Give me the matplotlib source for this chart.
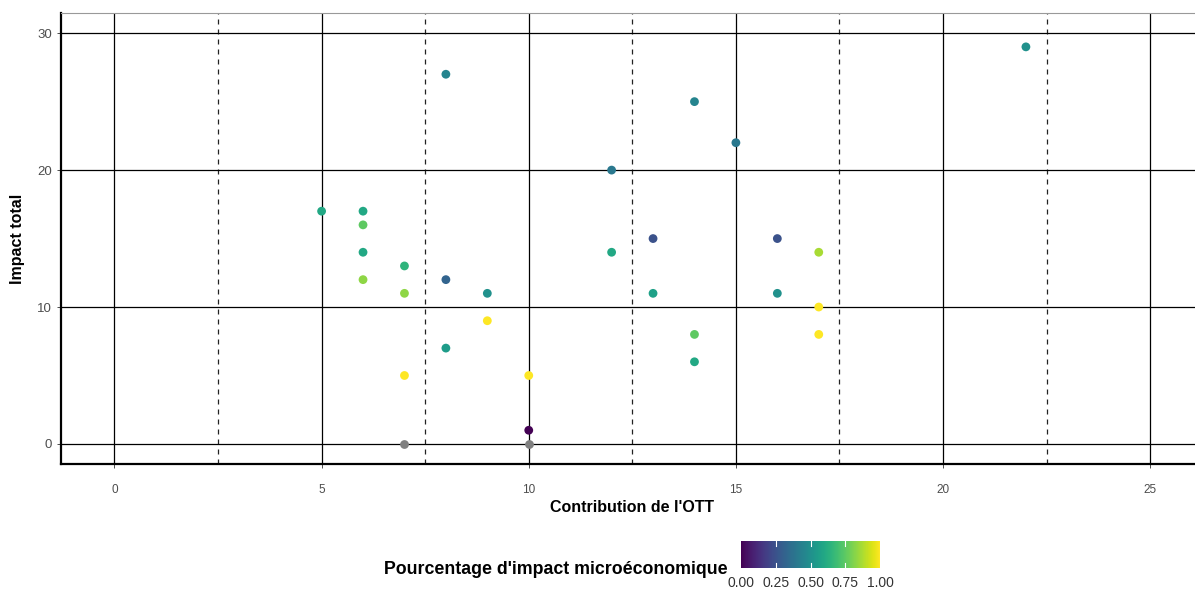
import numpy as np
import matplotlib
matplotlib.use("Agg")
import matplotlib.pyplot as plt
from matplotlib.ticker import MultipleLocator

plt.rcParams["font.family"] = ["Liberation Sans", "DejaVu Sans"]

# contribution de l'OTT, impact total, part microeconomique (nan = pas de valeur)
contribution = [5, 6, 6, 6, 6, 7, 7, 7, 7, 8, 8, 8, 9, 9, 10, 10, 10,
                12, 12, 13, 13, 14, 14, 14, 15, 16, 16, 17, 17, 17, 22]
impact = [17, 17, 16, 14, 12, 13, 11, 5, 0, 27, 12, 7, 11, 9, 5, 1, 0,
          20, 14, 15, 11, 25, 8, 6, 22, 15, 11, 14, 10, 8, 29]
pct_micro = [0.60, 0.60, 0.75, 0.60, 0.83, 0.65, 0.83, 1.00, np.nan,
             0.45, 0.32, 0.55, 0.50, 1.00, 1.00, 0.00, np.nan,
             0.40, 0.60, 0.25, 0.57, 0.45, 0.75, 0.60, 0.40, 0.25, 0.50,
             0.87, 1.00, 1.00, 0.50]

x = np.array(contribution, dtype=float)
y = np.array(impact, dtype=float)
c = np.array(pct_micro, dtype=float)
na = np.isnan(c)

fig = plt.figure(figsize=(11.95, 5.93), dpi=100)
ax = fig.add_axes([61 / 1195, 0.2167, 1141 / 1195, 0.762])

ax.set_xlim(-1.29, 26.25)
ax.set_ylim(-1.5, 31.5)
ax.xaxis.set_major_locator(MultipleLocator(5))
ax.xaxis.set_minor_locator(MultipleLocator(2.5))
ax.yaxis.set_major_locator(MultipleLocator(10))

ax.grid(which="major", axis="both", color="black", lw=0.9)
ax.grid(which="minor", axis="x", color="#222222", lw=0.9, ls=(0, (4, 4)))
ax.set_axisbelow(True)

ax.spines["right"].set_visible(False)
ax.spines["top"].set_color("#999999")
ax.spines["top"].set_linewidth(0.8)
for side in ("left", "bottom"):
    ax.spines[side].set_linewidth(1.6)

ax.tick_params(axis="x", which="minor", length=0)
ax.tick_params(axis="x", which="major", labelsize=8.5, colors="#4d4d4d",
               length=3, width=0.7, pad=11)
ax.tick_params(axis="y", labelsize=9.5, colors="#4d4d4d", length=3, width=0.7)

sc = ax.scatter(x[~na], y[~na], c=c[~na], cmap="viridis", vmin=0, vmax=1,
                s=40, linewidths=0, zorder=3)
ax.scatter(x[na], y[na], color="#808080", s=40, linewidths=0, zorder=3)

ax.set_xlabel("Contribution de l'OTT", fontsize=11.5, fontweight="bold", labelpad=3)
ax.set_ylabel("Impact total", fontsize=11.5, fontweight="bold", labelpad=9)

cax = fig.add_axes([741 / 1195, 25 / 593, 139 / 1195, 27 / 593])
cb = fig.colorbar(sc, cax=cax, orientation="horizontal")
cb.outline.set_visible(False)
cb.set_ticks([0, 0.25, 0.5, 0.75, 1.0])
cb.set_ticklabels(["0.00", "0.25", "0.50", "0.75", "1.00"])
cax.tick_params(labelsize=10, colors="#333333", length=0, pad=6)
for t in [0.25, 0.5, 0.75]:
    cax.axvline(t, ymin=0, ymax=0.18, color="white", lw=0.8)
    cax.axvline(t, ymin=0.82, ymax=1, color="white", lw=0.8)

fig.text(0.609, 0.040, "Pourcentage d'impact microéconomique", ha="right",
         va="center", fontsize=12.8, fontweight="bold")

fig.savefig("out.png", dpi=100)
